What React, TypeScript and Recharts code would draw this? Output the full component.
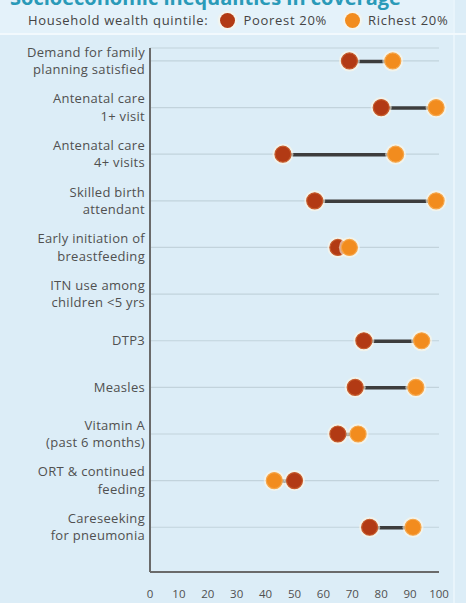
import React from "react";
import {
  ComposedChart,
  Bar,
  Line,
  XAxis,
  YAxis,
  CartesianGrid,
} from "recharts";

const categories: string[] = [
  "Demand for family\nplanning satisfied",
  "Antenatal care\n1+ visit",
  "Antenatal care\n4+ visits",
  "Skilled birth\nattendant",
  "Early initiation of\nbreastfeeding",
  "ITN use among\nchildren <5 yrs",
  "DTP3",
  "Measles",
  "Vitamin A\n(past 6 months)",
  "ORT & continued\nfeeding",
  "Careseeking\nfor pneumonia",
];

const poorest: (number | null)[] = [69, 80, 46, 57, 65, null, 74, 71, 65, 50, 76];
const richest: (number | null)[] = [84, 99, 85, 99, 69, null, 94, 92, 72, 43, 91];

const xTicks: number[] = [0, 10, 20, 30, 40, 50, 60, 70, 80, 90, 100];

const legendTitle = "Household wealth quintile:";
const seriesNames = ["Poorest 20%", "Richest 20%"];
const titleText = "Socioeconomic inequalities in coverage";

const POOR = "#b23a14";
const RICH = "#f28c1e";
const FONT = "'Open Sans', 'Noto Sans', sans-serif";

const data = categories.map((name, i) => {
  const p = poorest[i];
  const r = richest[i];
  return {
    idx: i,
    name,
    poorest: p,
    richest: r,
    range: p != null && r != null ? [Math.min(p, r), Math.max(p, r)] : null,
  };
});

const makeDot = (color: string, edge: string) => (props: any) => {
  const { cx, cy, value, index } = props;
  if (value == null || cx == null || cy == null) return <g key={`d-${index}`} />;
  return (
    <g key={`d-${index}`}>
      <circle cx={cx} cy={cy} r={10.5} fill="#fff6e4" opacity={0.6} />
      <circle cx={cx} cy={cy} r={8} fill={color} stroke={edge} strokeWidth={1.2} />
    </g>
  );
};

const YTick = (props: any) => {
  const { x, y, payload } = props;
  const lines = (categories[payload.value] || "").split("\n");
  const lh = 17.5;
  return (
    <text
      x={x + 3}
      y={y}
      textAnchor="end"
      fill="#505050"
      fontSize={13}
      letterSpacing={0.3}
      fontFamily={FONT}
    >
      {lines.map((l, i) => (
        <tspan key={i} x={x + 3} dy={i === 0 ? -((lines.length - 1) / 2) * lh + 4.5 : lh}>
          {l}
        </tspan>
      ))}
    </text>
  );
};

export default function App() {
  return (
    <div
      style={{
        position: "absolute",
        left: 0,
        top: 0,
        width: 466,
        height: 603,
        background: "#dcedf7",
        overflow: "hidden",
        fontFamily: FONT,
      }}
    >
      <div
        style={{
          position: "absolute",
          left: 0,
          top: 0,
          width: 453,
          height: 33,
          background: "#e4f2fa",
        }}
      />
      <div
        style={{
          position: "absolute",
          left: 453,
          top: 0,
          width: 2,
          height: 603,
          background: "#e8f4fb",
        }}
      />
      <div
        style={{
          position: "absolute",
          left: 10,
          top: -16,
          fontSize: 20,
          fontWeight: 700,
          color: "#2a9ab8",
          whiteSpace: "nowrap",
        }}
      >
        {titleText}
      </div>
      <div
        style={{
          position: "absolute",
          left: 0,
          top: 33,
          width: 466,
          height: 2,
          background: "#f2f9fd",
        }}
      />
      <div
        style={{
          position: "absolute",
          left: 28,
          top: 11,
          display: "flex",
          alignItems: "center",
          fontSize: 13,
          letterSpacing: 0.7,
          color: "#444",
          whiteSpace: "nowrap",
        }}
      >
        <span>{legendTitle}</span>
        <span
          style={{
            display: "inline-block",
            width: 15,
            height: 15,
            borderRadius: "50%",
            background: POOR,
            marginLeft: 12,
            marginRight: 8,
            boxShadow: "0 0 2px 2px rgba(255,246,228,0.7)",
          }}
        />
        <span>{seriesNames[0]}</span>
        <span
          style={{
            display: "inline-block",
            width: 15,
            height: 15,
            borderRadius: "50%",
            background: RICH,
            marginLeft: 18,
            marginRight: 8,
            boxShadow: "0 0 2px 2px rgba(255,246,228,0.7)",
          }}
        />
        <span>{seriesNames[1]}</span>
      </div>
      <div style={{ position: "absolute", left: 0, top: 0 }}>
        <ComposedChart
          width={466}
          height={603}
          layout="vertical"
          data={data}
          margin={{ top: 48, right: 27, bottom: 6, left: 0 }}
        >
          <CartesianGrid vertical={false} stroke="#c2d3dc" strokeWidth={1.2} />
          <XAxis
            type="number"
            domain={[0, 100]}
            ticks={xTicks}
            interval={0}
            height={25}
            axisLine={{ stroke: "#6a6a6a", strokeWidth: 2 }}
            tickLine={false}
            tickMargin={12}
            tick={{ fill: "#505050", fontSize: 11.5, fontFamily: FONT }}
          />
          <YAxis
            type="number"
            dataKey="idx"
            domain={[-0.278, 10.96]}
            allowDataOverflow
            ticks={[0, 1, 2, 3, 4, 5, 6, 7, 8, 9, 10]}
            interval={0}
            width={150}
            axisLine={{ stroke: "#6a6a6a", strokeWidth: 2 }}
            tickLine={false}
            tick={<YTick />}
          />
          <Bar
            dataKey="range"
            barSize={3.5}
            fill="#3d3d3d"
            isAnimationActive={false}
          />
          <Line
            dataKey="poorest"
            stroke="none"
            dot={makeDot(POOR, "#c65a2a")}
            activeDot={false}
            isAnimationActive={false}
          />
          <Line
            dataKey="richest"
            stroke="none"
            dot={makeDot(RICH, "#f6a548")}
            activeDot={false}
            isAnimationActive={false}
          />
        </ComposedChart>
      </div>
    </div>
  );
}
